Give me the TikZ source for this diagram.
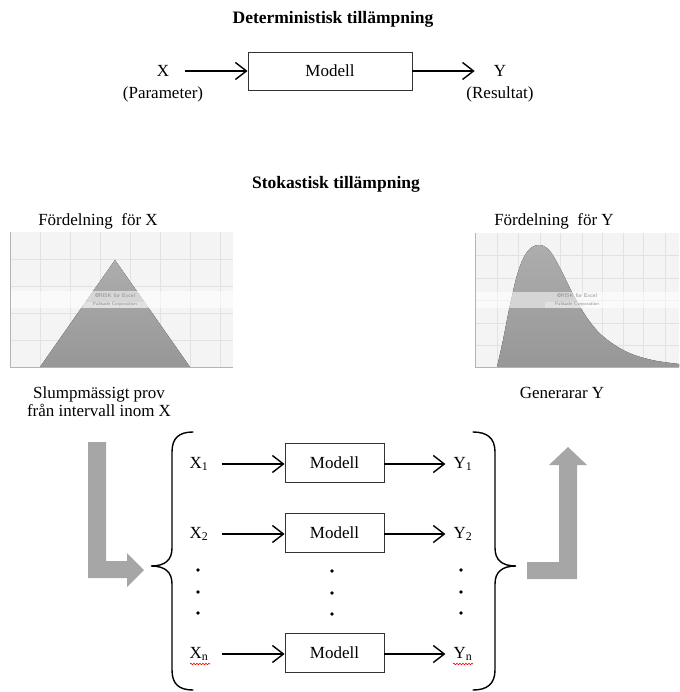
\documentclass[tikz,border=0pt]{standalone}
\usepackage{fontspec}
\setmainfont{Liberation Serif}
\usetikzlibrary{arrows.meta,decorations.pathmorphing}
\definecolor{arrowgray}{HTML}{A6A6A6}
\definecolor{chartbg}{HTML}{F4F4F4}
\definecolor{gridc}{HTML}{E2E2E2}
\definecolor{axisc}{HTML}{B4B4B4}
\definecolor{disttop}{HTML}{ADADAD}
\definecolor{distbot}{HTML}{979797}
\definecolor{wmark}{HTML}{8C8C8C}
\begin{document}
\begin{tikzpicture}[x=1pt,y=-1pt,
  lbl/.style={font=\fontsize{17}{18}\selectfont, inner sep=0pt},
  ttl/.style={font=\fontsize{17.5}{19}\selectfont\bfseries, inner sep=0pt},
  mbox/.style={draw=black!80, line width=0.9pt, font=\fontsize{17}{18}\selectfont, inner sep=0pt},
  arr/.style={line width=1.4pt, -{Straight Barb[length=11pt,width=17pt,line width=1.4pt]}},
  bracestyle/.style={line width=1.4pt, line cap=round},
  garrow/.style={fill=arrowgray, draw=none},
  gridline/.style={draw=gridc, line width=0.8pt},
  dist/.style={top color=disttop, bottom color=distbot, draw=none},
  wm/.style={font=\fontsize{5.5}{6}\selectfont\sffamily, text=wmark, inner sep=0.5pt},
  squig/.style={draw=red, line width=0.6pt, decorate, decoration={snake, amplitude=0.8pt, segment length=3pt}}
]
\useasboundingbox (0,0) rectangle (679,692);

% ---------- Deterministic part ----------
\node[ttl] (t1) at (333,19) {Deterministisk tillämpning};
\node[lbl] (X) at (163,71) {X};
\node[lbl] (Xp) at (163,94) {(Parameter)};
\node[mbox, minimum width=164pt, minimum height=38pt] (M) at (330,71) {Modell};
\node[lbl] (Y) at (500,71) {Y};
\node[lbl] (Yp) at (500,94) {(Resultat)};
\draw[arr, shorten <=16pt] (X.east) -- (M.west);
\draw[arr, shorten >=19pt] (M.east) -- (Y.west);

% ---------- Stochastic part ----------
\node[ttl] (t2) at (336,184) {Stokastisk tillämpning};

\node[lbl] (fx) at (98,221) {Fördelning\ \ för X};
\node[lbl] (fy) at (554,221) {Fördelning\ \ för Y};

% left chart
\fill[chartbg] (10,232) rectangle (233,367);
\foreach \xx in {40,70,100,130,160,190,220} \draw[gridline] (\xx,232) -- (\xx,367);
\foreach \yy in {259,286,313,340} \draw[gridline] (10,\yy) -- (233,\yy);
\fill[dist] (40,367) -- (115,260) -- (190,367) -- cycle;
\fill[white, opacity=0.55] (10,291) rectangle (233,308);
\fill[white, opacity=0.3] (83,302) rectangle (147,308);
\node[wm] (wm1a) at (115,296) {@RISK for Excel};
\node[wm, font=\fontsize{4.8}{5}\selectfont\sffamily] (wm1b) at (115,304.5) {Palisade Corporation};
\draw[axisc, line width=0.8pt] (10,232) -- (10,367) -- (233,367);

% right chart
\fill[chartbg] (475,233) rectangle (679,367);
\foreach \xx in {497,518,540,560,582,602,623,643,665} \draw[gridline] (\xx,233) -- (\xx,367);
\foreach \yy in {255,278,300,323,345} \draw[gridline] (475,\yy) -- (679,\yy);
\fill[dist] plot[smooth, tension=0.6] coordinates {(497,367) (503,340) (510,305) (518,272) (527,252) (538,245) (549,250) (560,268) (575,298) (590,322) (605,338) (627,352) (652,360) (679,364)} -- (679,367) -- cycle;
\fill[white, opacity=0.55] (475,292) rectangle (679,308);
\fill[white, opacity=0.3] (545,302) rectangle (609,308);
\node[wm] (wm2a) at (577,296) {@RISK for Excel};
\node[wm, font=\fontsize{4.8}{5}\selectfont\sffamily] (wm2b) at (577,304.5) {Palisade Corporation};
\draw[axisc, line width=0.8pt] (475,233) -- (475,367) -- (679,367);

% side labels
\node[lbl, align=center] (samp) at (99,402) {Slumpmässigt prov\\[0pt]från intervall inom X};
\node[lbl] (gen) at (562,393) {Generarar Y};

% gray bent arrows
\fill[garrow] (88,442) -- (106,442) -- (106,561) -- (127,561) -- (127,553) -- (144,570) -- (127,587) -- (127,578) -- (88,578) -- cycle;
\fill[garrow] (527,562) -- (559,562) -- (559,465) -- (549,465) -- (568,447) -- (587,465) -- (577,465) -- (577,579) -- (527,579) -- cycle;

% braces
\draw[bracestyle] (193,432) .. controls (179,432) and (172,438) .. (172,452) -- (172,548)
  .. controls (172,560) and (165,566) .. (151,566)
  .. controls (165,566) and (172,572) .. (172,584) -- (172,670)
  .. controls (172,684) and (179,690) .. (193,690);
\draw[bracestyle] (473,432) .. controls (487,432) and (495,438) .. (495,452) -- (495,548)
  .. controls (495,560) and (502,566) .. (516,566)
  .. controls (502,566) and (495,572) .. (495,584) -- (495,670)
  .. controls (495,684) and (487,690) .. (473,690);

% rows
\foreach \r/\yy in {1/464, 2/534, n/654} {
  \node[lbl] (x\r) at (199,\yy) {X\textsubscript{\r}};
  \node[mbox, minimum width=99pt, minimum height=39pt] (m\r) at (334.5,\yy-1) {Modell};
  \node[lbl] (y\r) at (463,\yy) {Y\textsubscript{\r}};
  \draw[arr, shorten <=13pt] (x\r.east) -- (x\r.east -| m\r.west);
  \draw[arr, shorten >=8pt] (x\r.east -| m\r.east) -- (y\r.west);
}

% dots
\foreach \yy in {570,592,613} {
  \fill (198,\yy) circle (1.8pt);
  \fill (332,\yy+1) circle (1.8pt);
  \fill (461,\yy) circle (1.8pt);
}

% spell-check squiggles
\draw[squig] (190,664) -- (210,664);
\draw[squig] (453,664) -- (473,664);
\end{tikzpicture}
\end{document}
